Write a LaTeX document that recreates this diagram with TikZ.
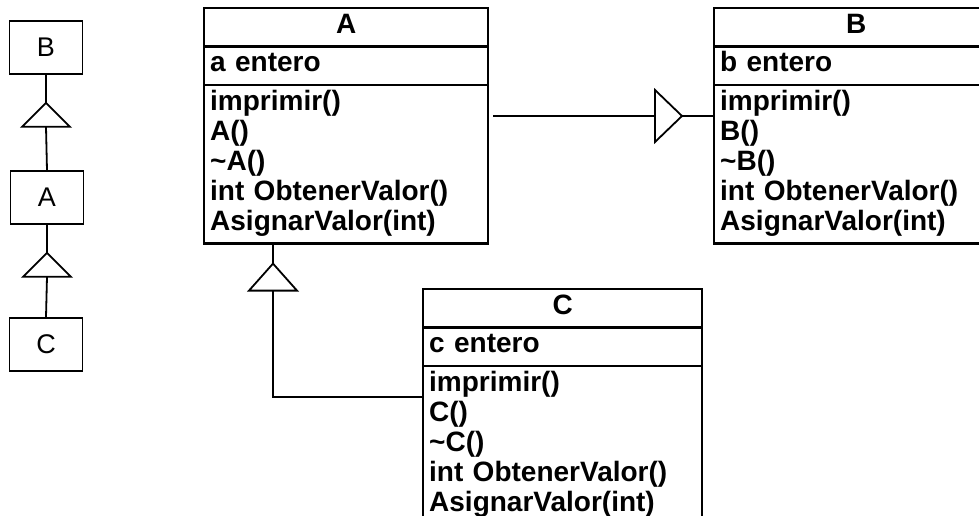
\documentclass[tikz,border=0pt]{standalone}
\usepackage{fontspec}
\setmainfont{Liberation Sans}
\usetikzlibrary{positioning, calc, shapes.multipart}
\newcommand{\umlsize}{\fontsize{28}{30}\selectfont}
\tikzset{
    umlclass/.style={rectangle split, rectangle split parts=3, draw, line width=2.4pt,
        text width=#1, inner xsep=6pt, inner ysep=3pt, font=\bfseries\umlsize,
        anchor=north west},
    tinybox/.style={draw, line width=1.6pt, minimum width=73pt, minimum height=53pt,
        inner sep=0pt, font=\fontsize{27}{30}\selectfont},
    link/.style={line width=1.8pt},
    hollow/.style={draw, line width=1.8pt, fill=white, line join=miter},
}

\begin{document}
\begin{tikzpicture}[x=1pt, y=-1pt]
    \useasboundingbox (0,0) rectangle (979,516);
    \clip (0,0) rectangle (979,516);

    % Jerarquia resumida
    \node[tinybox] (sB) at (46,47.5) {B};
    \node[tinybox] (sA) at (47,197.5) {A};
    \node[tinybox] (sC) at (46,344.5) {C};

    \draw[link] (sB.south) -- ++(0,28) coordinate (t1);
    \draw[hollow] (t1) -- ++(-24,24) -- ++(48,0) -- cycle;
    \draw[link] ($(t1)+(0,24)$) -- (sA.north);

    \draw[link] (sA.south) -- ++(0,28) coordinate (t2);
    \draw[hollow] (t2) -- ++(-24,24) -- ++(48,0) -- cycle;
    \draw[link] ($(t2)+(0,24)$) -- (sC.north);

    % Clases
    \node[umlclass=272pt] (A) at (203,7) {\centering\strut A\par
        \nodepart{two}\raggedright\strut a entero
        \nodepart{three}\raggedright\strut imprimir()\\ A()\\ \textasciitilde A()\\ int ObtenerValor()\\ AsignarValor(int)\strut};
    \node[umlclass=272pt] (B) at (713,7) {\centering\strut B\par
        \nodepart{two}\raggedright\strut b entero
        \nodepart{three}\raggedright\strut imprimir()\\ B()\\ \textasciitilde B()\\ int ObtenerValor()\\ AsignarValor(int)\strut};
    \node[umlclass=267pt] (C) at (422,288) {\centering\strut C\par
        \nodepart{two}\raggedright\strut c entero
        \nodepart{three}\raggedright\strut imprimir()\\ C()\\ \textasciitilde C()\\ int ObtenerValor()\\ AsignarValor(int)\strut};

    % A hereda de B
    \coordinate (aTap) at ($(A.north east)+(4,109)$);
    \coordinate (genB) at ($(B.north west)+(-31,109)$);
    \draw[link] (aTap) -- ($(genB)+(-27,0)$);
    \draw[hollow] (genB) -- ++(-27,-26) -- ++(0,52) -- cycle;
    \draw[link] (genB) -- (genB -| B.west);

    % C hereda de A
    \coordinate (genA) at ($(A.south west)+(70,19)$);
    \coordinate (cTap) at ($(C.north west)+(0,109)$);
    \draw[link] (genA |- A.south) -- (genA);
    \draw[hollow] (genA) -- ++(-24,27) -- ++(48,0) -- cycle;
    \draw[link] ($(genA)+(0,27)$) |- (cTap);
\end{tikzpicture}
\end{document}
